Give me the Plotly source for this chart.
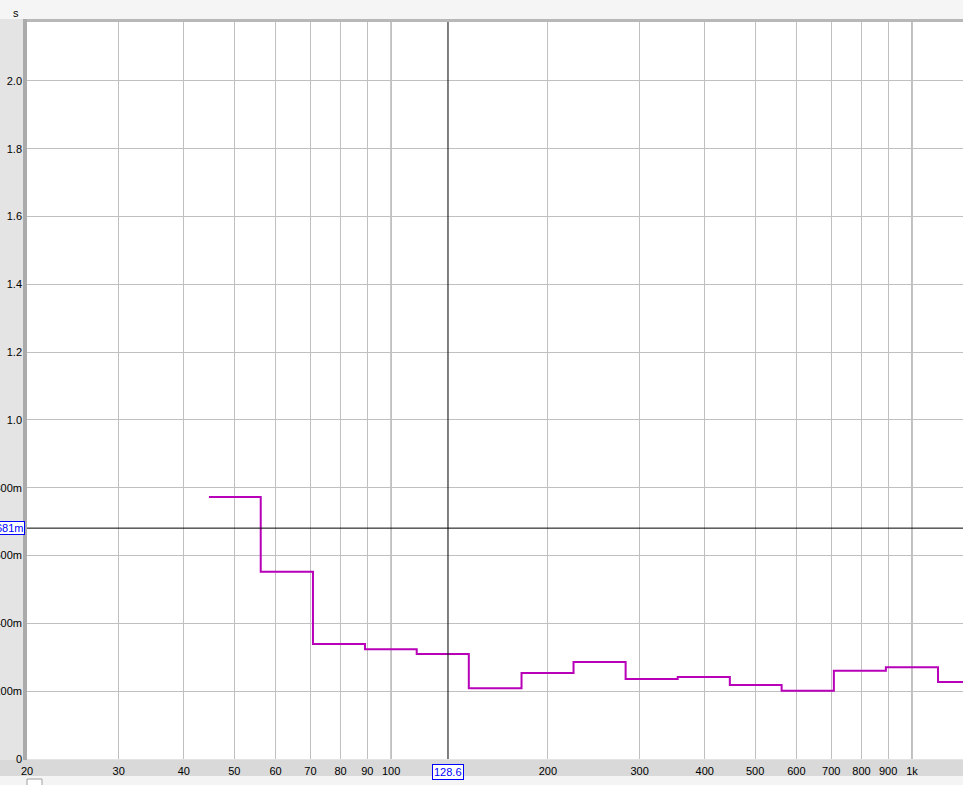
import math
import plotly.graph_objects as go

# ---- data ----
band_edges_hz = [44.7, 56.2, 70.8, 89.1, 112, 141, 178, 224, 282, 355, 447, 562, 708, 891, 1122, 1413]
rt_values_s = [0.773, 0.552, 0.339, 0.324, 0.310, 0.209, 0.254, 0.286, 0.236, 0.242,
               0.218, 0.201, 0.260, 0.271, 0.227]

x_tick_vals = [20, 30, 40, 50, 60, 70, 80, 90, 100, 200, 300, 400, 500, 600, 700, 800, 900, 1000]
x_tick_text = ["20", "30", "40", "50", "60", "70", "80", "90", "100", "200", "300", "400",
               "500", "600", "700", "800", "900", "1k"]
y_tick_vals = [0, 0.2, 0.4, 0.6, 0.8, 1.0, 1.2, 1.4, 1.6, 1.8, 2.0]
y_tick_text = ["0", "200m", "400m", "600m", "800m", "1.0", "1.2", "1.4", "1.6", "1.8", "2.0"]
decade_lines_hz = [100, 1000]
cursor_x_hz = 128.6
cursor_y_s = 0.681
x_range_hz = [20, 1253]
y_range_s = [0, 2.174]

# ---- geometry (screen coordinates; page body margin removed) ----
SCR_W, SCR_H = 963, 785
PL, PR, PT, PB = 27, 963, 22, 759          # plot rectangle on screen
W, H = SCR_W, SCR_H
L, T = PL, PT
R = W - PR
B = H - PB
PW, PH = PR - PL, PB - PT


def px(sx):
    return (sx - PL) / PW


def py(sy):
    return (PB - sy) / PH


FONT = "Liberation Sans"

fig = go.Figure()
fig.add_trace(go.Scatter(
    x=band_edges_hz,
    y=rt_values_s + [rt_values_s[-1]],
    mode="lines",
    line=dict(color="#b800b8", width=2, shape="hv"),
    hoverinfo="skip",
    showlegend=False,
))

shapes = []
# background regions outside the plot
shapes.append(dict(type="rect", xref="paper", yref="paper", x0=px(0), x1=px(SCR_W), y0=py(0), y1=py(19),
                   fillcolor="#f5f5f5", line_width=0, layer="below"))
shapes.append(dict(type="rect", xref="paper", yref="paper", x0=px(23), x1=px(SCR_W), y0=py(19), y1=py(22),
                   fillcolor="#b8b8b8", line_width=0, layer="below"))
shapes.append(dict(type="rect", xref="paper", yref="paper", x0=px(23), x1=px(27), y0=py(19), y1=py(760),
                   fillcolor="#ababab", line_width=0, layer="below"))
shapes.append(dict(type="rect", xref="paper", yref="paper", x0=px(0), x1=px(SCR_W), y0=py(760), y1=py(776),
                   fillcolor="#d9d9d9", line_width=0, layer="below"))
shapes.append(dict(type="rect", xref="paper", yref="paper", x0=px(0), x1=px(SCR_W), y0=py(776), y1=py(SCR_H),
                   fillcolor="#f4f4f4", line_width=0, layer="below"))
shapes.append(dict(type="rect", xref="paper", yref="paper", x0=px(27), x1=px(42), y0=py(779), y1=py(SCR_H + 2),
                   fillcolor="#ffffff", line=dict(color="#a0a0a0", width=1), layer="below"))
# darker decade gridlines
for d in decade_lines_hz:
    shapes.append(dict(type="line", xref="x", yref="paper", x0=d, x1=d, y0=0, y1=1,
                       line=dict(color="#808080", width=1), layer="below"))
# cursor crosshair
shapes.append(dict(type="line", xref="x", yref="paper", x0=cursor_x_hz, x1=cursor_x_hz, y0=0, y1=1,
                   line=dict(color="#000000", width=1)))
shapes.append(dict(type="line", xref="paper", yref="y", x0=0, x1=1, y0=cursor_y_s, y1=cursor_y_s,
                   line=dict(color="#000000", width=1)))

annotations = [
    dict(text="s", xref="paper", yref="paper", x=px(16), y=py(13), showarrow=False,
         font=dict(family=FONT, size=11, color="#000000"), xanchor="center", yanchor="middle"),
    dict(text="128.6", xref="x", yref="paper", x=math.log10(cursor_x_hz), y=py(771.5), showarrow=False,
         font=dict(family=FONT, size=11, color="#0000ff"), bgcolor="#ffffff", bordercolor="#0000ff",
         borderwidth=1, borderpad=1, xanchor="center", yanchor="middle"),
    dict(text="681m", xref="paper", yref="y", x=px(24.5), y=cursor_y_s, showarrow=False,
         font=dict(family=FONT, size=11, color="#0000ff"), bgcolor="#ffffff", bordercolor="#0000ff",
         borderwidth=1, borderpad=0, xanchor="right", yanchor="middle"),
]

fig.update_layout(
    width=W, height=H,
    autosize=False,
    margin=dict(l=L, r=R, t=T, b=B, pad=0, autoexpand=False),
    paper_bgcolor="#e4e4e4",
    plot_bgcolor="#ffffff",
    font=dict(family=FONT, size=11, color="#000000"),
    shapes=shapes,
    annotations=annotations,
    showlegend=False,
    hovermode=False,
    xaxis=dict(
        type="log",
        range=[math.log10(x_range_hz[0]), math.log10(x_range_hz[1])],
        tickvals=x_tick_vals, ticktext=x_tick_text,
        showgrid=True, gridcolor="#c0c0c0", gridwidth=1,
        zeroline=False, showline=False, ticks="",
        ticklabelstandoff=4, automargin=False,
        tickfont=dict(family=FONT, size=11, color="#000000"),
    ),
    yaxis=dict(
        range=y_range_s,
        tickvals=y_tick_vals, ticktext=y_tick_text,
        showgrid=True, gridcolor="#c0c0c0", gridwidth=1,
        zeroline=False, showline=False, ticks="",
        ticklabelstandoff=4, automargin=False,
        tickfont=dict(family=FONT, size=11, color="#000000"),
    ),
)

fig.write_html(
    "out.html",
    config={"displayModeBar": False},
    post_script="document.body.style.margin='0';document.body.style.overflow='hidden';",
)
